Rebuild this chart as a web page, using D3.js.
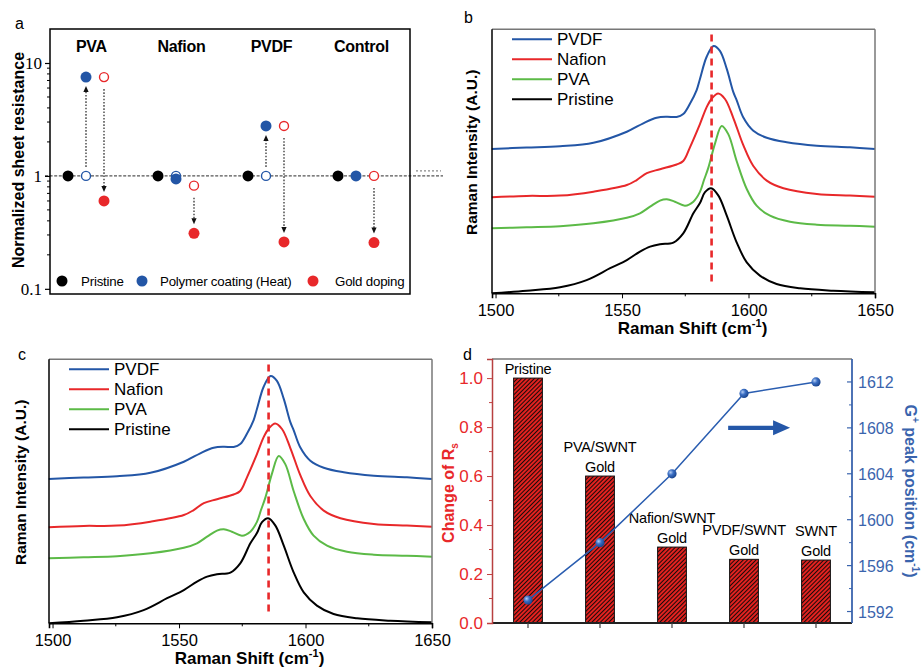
<!DOCTYPE html>
<html><head><meta charset="utf-8">
<script src="https://cdn.jsdelivr.net/npm/d3@7"></script>
<style>body{margin:0;background:#fff;} svg{display:block;font-family:Arial,"Liberation Sans",sans-serif;}</style>
</head><body><svg id="chart" width="921" height="668"></svg>
<script>
// ---------------- Panel a data ----------------
const groupsA = ["PVA", "Nafion", "PVDF", "Control"];
const pristineR = [1, 1, 1, 1];
const coatedBaseR = [1, 1, 1, null];          // open blue (before heat)
const coatedR = [7.5, 0.94, 2.77, 1.0];        // filled blue
const goldBeforeR = [7.5, 0.82, 2.77, 1.0];    // open red
const goldAfterR = [0.60, 0.31, 0.26, 0.257];  // filled red
const coatArrow = [true, false, true, false];
const yTicksA = [0.1, 1, 10];
const yMinorA = [0.2,0.3,0.4,0.5,0.6,0.7,0.8,0.9,2,3,4,5,6,7,8,9];
const legendA = ["Pristine", "Polymer coating (Heat)", "Gold doping"];

// ---------------- Raman spectra (panels b, c) ----------------
const ramanNames = ["PVDF", "Nafion", "PVA", "Pristine"];
const pvdfX = [1498.5,1512.3,1525.5,1538.7,1551.9,1558.4,1563.7,1567.7,1571.6,1574.2,1576.9,1579.5,1580.8,1583.5,1586.2,1588.7,1591.4,1594.0,1595.3,1597.9,1601.9,1607.2,1615.1,1627.0,1640.1,1650.0];
const pvdfY = [54.7,55.2,55.7,57.0,61.2,64.4,66.5,66.9,66.8,67.9,71.9,77.0,81.2,89.7,93.7,91.8,85.0,76.2,73.2,66.7,61.6,58.9,57.2,55.9,55.3,54.7];
const nafionX = [1498.5,1512.3,1525.5,1538.7,1551.9,1555.8,1559.8,1565.0,1571.6,1574.2,1576.9,1580.8,1583.5,1585.5,1588.0,1590.7,1594.0,1597.9,1601.9,1607.2,1613.8,1627.0,1640.1,1650.0];
const nafionY = [36.4,36.9,37.0,38.5,41.0,42.9,45.5,47.0,48.8,50.1,55.4,64.1,70.6,73.8,75.7,73.6,66.4,56.2,48.2,42.7,39.8,37.6,37.0,36.6];
const pvaX = [1498.5,1512.3,1525.5,1538.7,1551.9,1557.1,1561.1,1565.0,1567.7,1570.9,1574.9,1578.2,1580.8,1582.4,1584.1,1586.8,1589.4,1592.0,1595.3,1599.3,1603.2,1608.5,1616.4,1627.0,1640.1,1650.0];
const pvaY = [24.6,25.0,25.4,26.5,28.6,30.3,32.8,35.1,35.6,34.7,33.2,34.7,38.4,42.9,47.5,56.9,63.4,60.3,50.1,39.5,33.2,29.4,27.1,26.0,25.6,25.2];
const pristineX = [1498.5,1512.3,1525.5,1536.0,1545.3,1551.9,1557.1,1561.1,1565.0,1570.3,1574.2,1578.2,1580.8,1582.8,1585.2,1588.1,1591.4,1595.3,1599.3,1604.5,1611.1,1620.4,1633.5,1650.0];
const pristineY = [0.0,1.0,2.3,5.0,9.5,12.6,15.8,17.7,18.6,19.2,22.7,30.3,34.2,38.3,39.8,37.0,29.4,19.3,11.7,6.7,3.5,1.9,1.0,0.4];
const ramanTicks = [1500, 1550, 1600, 1650];
const ramanMinor = [1525, 1575, 1625];
const gPeakRef = 1585.4;

// ---------------- Panel d data ----------------
const samplesD = ["Pristine", "PVA/SWNT", "Nafion/SWNT", "PVDF/SWNT", "SWNT"];
const labelsD = [["Pristine"], ["PVA/SWNT", "Gold"], ["Nafion/SWNT", "Gold"], ["PVDF/SWNT", "Gold"], ["SWNT", "Gold"]];
const changeRs = [1.0, 0.60, 0.31, 0.26, 0.257];
const gPlusPos = [1593, 1598, 1604, 1611, 1612];
const leftTicksD = [0, 0.2, 0.4, 0.6, 0.8, 1.0];
const leftMinorD = [0.1, 0.3, 0.5, 0.7, 0.9];
const rightTicksD = [1592, 1596, 1600, 1604, 1608, 1612];
const rightMinorD = [1594, 1598, 1602, 1606, 1610];
const arrowD = {from: 2.78, to: 3.64, at: 1608};

const RED = "#e8282a", BLUE = "#2356a6", GREEN = "#5cba47", BLACK = "#000";
const svg = d3.select("#chart");
const defs = svg.append("defs");

function letter(t, x, y) {
  svg.append("text").attr("x", x).attr("y", y).attr("font-size", 16).text(t);
}

// ================= Panel a =================
(function () {
  const L = 50, R = 410, T = 29, B = 294;
  const x = d3.scaleLinear().domain([-1, 19]).range([L, R]);
  const y = d3.scaleLog().domain([0.09, 20]).range([B, T]);
  const g = svg.append("g");
  letter("a", 15, 29);

  g.append("line").attr("x1", L - 5).attr("x2", 443).attr("y1", y(1)).attr("y2", y(1))
    .attr("stroke", "#555").attr("stroke-width", 1.4).attr("stroke-dasharray", "3,1.6");
  g.append("line").attr("x1", 416).attr("x2", 441).attr("y1", y(1.107)).attr("y2", y(1.107))
    .attr("stroke", "#888").attr("stroke-width", 1.2).attr("stroke-dasharray", "2,2");

  g.append("rect").attr("x", L).attr("y", T).attr("width", R - L).attr("height", B - T)
    .attr("fill", "none").attr("stroke", "#000").attr("stroke-width", 1.5);

  const ax = g.append("g").attr("transform", `translate(${L},0)`)
    .call(d3.axisLeft(y).tickValues(yTicksA).tickSize(5).tickPadding(3).tickFormat(d => String(d)));
  ax.select(".domain").remove();
  ax.selectAll("line").attr("stroke-width", 1.2);
  ax.selectAll("text").attr("font-family", "'Liberation Serif','Times New Roman',serif").attr("font-size", 17);
  g.selectAll(".minA").data(yMinorA).join("line")
    .attr("x1", L - 3).attr("x2", L).attr("y1", d => y(d)).attr("y2", d => y(d))
    .attr("stroke", "#000").attr("stroke-width", 1);

  g.append("text").attr("transform", `translate(24,160) rotate(-90)`).attr("text-anchor", "middle")
    .attr("font-size", 16).attr("font-weight", "bold").text("Normalized sheet resistance");

  g.selectAll(".gl").data(groupsA).join("text")
    .attr("x", (d, i) => x(i * 5 + 1.3)).attr("y", 52).attr("text-anchor", "middle")
    .attr("font-size", 16).attr("font-weight", "bold").attr("letter-spacing", "-0.3").text(d => d);

  function arrow(xx, y1, y2) {
    const dir = y2 < y1 ? -1 : 1;
    g.append("line").attr("x1", xx).attr("x2", xx).attr("y1", y1).attr("y2", y2 - dir * 5)
      .attr("stroke", "#222").attr("stroke-width", 1.2).attr("stroke-dasharray", "1.6,1.6");
    g.append("path").attr("d", `M${xx - 2.6},${y2 - dir * 6} L${xx + 2.6},${y2 - dir * 6} L${xx},${y2} Z`).attr("fill", "#111");
  }
  groupsA.forEach((gname, i) => {
    if (coatArrow[i]) arrow(x(i * 5 + 1), y(1) - 9, y(coatedR[i]) + 9);
    arrow(x(i * 5 + 2), y(goldBeforeR[i]) + 12, y(goldAfterR[i]) - 9);
  });

  groupsA.forEach((gname, i) => {
    g.append("circle").attr("cx", x(i * 5)).attr("cy", y(pristineR[i])).attr("r", 5.5).attr("fill", BLACK);
    g.append("circle").attr("cx", x(i * 5 + 1)).attr("cy", y(coatedR[i])).attr("r", 5.5).attr("fill", BLUE);
    if (coatedBaseR[i] != null)
      g.append("circle").attr("cx", x(i * 5 + 1)).attr("cy", y(coatedBaseR[i])).attr("r", 4.5)
        .attr("fill", i === 1 ? "none" : "#fff").attr("stroke", BLUE).attr("stroke-width", 1.4);
    g.append("circle").attr("cx", x(i * 5 + 2)).attr("cy", y(goldBeforeR[i])).attr("r", 4.5)
      .attr("fill", "#fff").attr("stroke", RED).attr("stroke-width", 1.4);
    g.append("circle").attr("cx", x(i * 5 + 2)).attr("cy", y(goldAfterR[i])).attr("r", 5.5).attr("fill", RED);
  });

  const legCol = [BLACK, BLUE, RED], legCx = [62, 142, 313], legTx = [81, 160, 335];
  legendA.forEach((t, i) => {
    g.append("circle").attr("cx", legCx[i]).attr("cy", 281).attr("r", 5.5).attr("fill", legCol[i]);
    g.append("text").attr("x", legTx[i]).attr("y", 285.5).attr("font-size", 13.3).attr("letter-spacing", "-0.2").text(t);
  });
})();

// ================= Panels b, c =================
const ramanData = [
  {name: "Pristine", xs: pristineX, ys: pristineY, color: BLACK},
  {name: "PVA", xs: pvaX, ys: pvaY, color: GREEN},
  {name: "Nafion", xs: nafionX, ys: nafionY, color: RED},
  {name: "PVDF", xs: pvdfX, ys: pvdfY, color: BLUE}
];
const legendColor = {PVDF: BLUE, Nafion: RED, PVA: GREEN, Pristine: BLACK};

function drawRaman(ox, oy, titleX, lt, lx, ly) {
  const W = 383, H = 264;
  const x = d3.scaleLinear().domain([1498.6, 1650]).range([ox, ox + W]);
  const y = d3.scaleLinear().domain([0, 100]).range([oy + H, oy]);
  const g = svg.append("g");
  letter(lt, lx, ly);
  const line = d3.line().x(d => x(d[0])).y(d => y(d[1])).curve(d3.curveCatmullRom.alpha(0.5));
  ramanData.forEach(s => {
    g.append("path").datum(d3.zip(s.xs, s.ys)).attr("d", line).attr("fill", "none")
      .attr("stroke", s.color).attr("stroke-width", 2).attr("stroke-linejoin", "round");
  });
  g.append("line").attr("x1", x(gPeakRef)).attr("x2", x(gPeakRef)).attr("y1", y(98)).attr("y2", y(3))
    .attr("stroke", RED).attr("stroke-width", 2.6).attr("stroke-dasharray", "7,5");
  g.append("line").attr("x1", ox).attr("x2", ox + W).attr("y1", oy).attr("y2", oy).attr("stroke", "#777").attr("stroke-width", 1.5);
  g.append("line").attr("x1", ox + W).attr("x2", ox + W).attr("y1", oy).attr("y2", oy + H).attr("stroke", "#777").attr("stroke-width", 1.5);
  g.append("line").attr("x1", ox).attr("x2", ox).attr("y1", oy).attr("y2", oy + H).attr("stroke", "#000").attr("stroke-width", 1.5);
  const ax = g.append("g").attr("transform", `translate(0,${oy + H})`)
    .call(d3.axisBottom(x).tickValues(ramanTicks).tickSize(5).tickPadding(6).tickFormat(d3.format("d")));
  ax.select(".domain").attr("stroke-width", 1.6);
  ax.selectAll("text").attr("font-size", 16.5).attr("font-family", "Arial,'Liberation Sans',sans-serif");
  g.selectAll(".mn").data(ramanMinor).join("line").attr("x1", d => x(d)).attr("x2", d => x(d))
    .attr("y1", oy + H).attr("y2", oy + H + 3).attr("stroke", "#000");
  const xt = g.append("text").attr("x", ox + W / 2 + 9).attr("y", oy + H + 41).attr("text-anchor", "middle")
    .attr("font-size", 17).attr("font-weight", "bold");
  xt.append("tspan").text("Raman Shift (cm");
  xt.append("tspan").attr("dy", -7).attr("font-size", 11).text("-1");
  xt.append("tspan").attr("dy", 7).text(")");
  g.append("text").attr("transform", `translate(${titleX},${oy + 123}) rotate(-90)`).attr("text-anchor", "middle")
    .attr("font-size", 15.5).attr("font-weight", "bold").text("Raman Intensity (A.U.)");
  ramanNames.forEach((n, i) => {
    const ly2 = oy + 10 + i * 20;
    g.append("line").attr("x1", ox + 20).attr("x2", ox + 60).attr("y1", ly2).attr("y2", ly2)
      .attr("stroke", legendColor[n]).attr("stroke-width", 2);
    g.append("text").attr("x", ox + 65).attr("y", ly2 + 6).attr("font-size", 17).text(n);
  });
}
drawRaman(492, 29.3, 477, "b", 464, 23);
drawRaman(49, 359.3, 26, "c", 18, 360);

// ================= Panel d =================
(function () {
  const L = 492, R = 852, T = 359, B = 623;
  letter("d", 463, 360);
  const xb = d3.scaleBand().domain(samplesD).range([L, R]).paddingInner(0.6).paddingOuter(0.3);
  const step = xb.step();
  const x0 = xb(samplesD[0]) + xb.bandwidth() / 2;
  const xi = d3.scaleLinear().domain([0, 1]).range([x0, x0 + step]);
  const yL = d3.scaleLinear().domain([0, 1.078]).range([B, T]);
  const yR = d3.scaleLinear().domain([1591, 1614]).range([B, T]);
  const g = svg.append("g");

  const pat = defs.append("pattern").attr("id", "hatch").attr("patternUnits", "userSpaceOnUse")
    .attr("width", 3).attr("height", 3).attr("patternTransform", "rotate(45)");
  pat.append("rect").attr("width", 3).attr("height", 3).attr("fill", "#e4221f");
  pat.append("line").attr("x1", 0.5).attr("x2", 0.5).attr("y1", 0).attr("y2", 3).attr("stroke", "#1a0a0a").attr("stroke-width", 1.05);
  const rg = defs.append("radialGradient").attr("id", "ball").attr("cx", "35%").attr("cy", "35%").attr("r", "65%");
  rg.append("stop").attr("offset", "0").attr("stop-color", "#b4cdf3");
  rg.append("stop").attr("offset", "0.45").attr("stop-color", "#3b6fc4");
  rg.append("stop").attr("offset", "1").attr("stop-color", "#1b4690");

  g.selectAll(".bar").data(samplesD).join("rect")
    .attr("x", d => xb(d)).attr("width", xb.bandwidth())
    .attr("y", (d, i) => yL(changeRs[i])).attr("height", (d, i) => yL(0) - yL(changeRs[i]))
    .attr("fill", "url(#hatch)").attr("stroke", "#111").attr("stroke-width", 1);
  samplesD.forEach((s, i) => {
    const lines = labelsD[i], n = lines.length;
    lines.forEach((t, k) => {
      g.append("text").attr("x", xb(s) + xb.bandwidth() / 2).attr("y", yL(changeRs[i]) - 4 - (n - 1 - k) * 20)
        .attr("text-anchor", "middle").attr("font-size", 14.5).attr("letter-spacing", "-0.2").text(t);
    });
  });

  const pts = samplesD.map((s, i) => [xb(s) + xb.bandwidth() / 2, yR(gPlusPos[i])]);
  g.append("path").attr("d", d3.line()(pts)).attr("fill", "none").attr("stroke", "#2a5db0").attr("stroke-width", 1.5);
  g.selectAll(".pt").data(pts).join("circle").attr("cx", d => d[0]).attr("cy", d => d[1]).attr("r", 4.6)
    .attr("fill", "url(#ball)");

  const ax1 = xi(arrowD.from), ax2 = xi(arrowD.to), ay = yR(arrowD.at);
  g.append("path").attr("d",
    `M${ax1},${ay - 2.2} L${ax2 - 17},${ay - 2.2} L${ax2 - 17},${ay - 7.5} L${ax2},${ay} L${ax2 - 17},${ay + 7.5} L${ax2 - 17},${ay + 2.2} L${ax1},${ay + 2.2} Z`)
    .attr("fill", "#2457a8");

  g.append("line").attr("x1", L).attr("x2", R).attr("y1", T).attr("y2", T).attr("stroke", "#777").attr("stroke-width", 1.5);
  g.append("line").attr("x1", L).attr("x2", R).attr("y1", B).attr("y2", B).attr("stroke", "#222").attr("stroke-width", 1.8);
  g.selectAll(".xt").data(samplesD).join("line").attr("x1", d => xb(d) + xb.bandwidth() / 2).attr("x2", d => xb(d) + xb.bandwidth() / 2)
    .attr("y1", B).attr("y2", B + 5).attr("stroke", "#444").attr("stroke-width", 1.2);

  const la = g.append("g").attr("transform", `translate(${L},0)`)
    .call(d3.axisLeft(yL).tickValues(leftTicksD).tickSize(5).tickPadding(4).tickFormat(d3.format(".1f")));
  la.select(".domain").attr("stroke", "#b84040").attr("stroke-width", 1.5);
  la.selectAll("line").attr("stroke", "#c04040");
  la.selectAll("text").attr("fill", RED).attr("font-size", 17).attr("font-family", "Arial,'Liberation Sans',sans-serif");
  g.selectAll(".lm").data(leftMinorD).join("line").attr("x1", L - 3).attr("x2", L).attr("y1", d => yL(d)).attr("y2", d => yL(d)).attr("stroke", "#c04040");

  const RB = "#3a64ad";
  g.append("line").attr("x1", R).attr("x2", R).attr("y1", T).attr("y2", B).attr("stroke", RB).attr("stroke-width", 1.8);
  g.selectAll(".rt").data(rightTicksD).join("line").attr("x1", R - 5).attr("x2", R).attr("y1", d => yR(d)).attr("y2", d => yR(d)).attr("stroke", RB).attr("stroke-width", 1.2);
  g.selectAll(".rm").data(rightMinorD).join("line").attr("x1", R - 3).attr("x2", R).attr("y1", d => yR(d)).attr("y2", d => yR(d)).attr("stroke", RB);
  g.selectAll(".rl").data(rightTicksD).join("text").attr("x", R + 6).attr("y", d => yR(d) + 6)
    .attr("fill", RB).attr("font-size", 16).text(d => d);

  const lt = g.append("text").attr("transform", `translate(454,493) rotate(-90)`).attr("text-anchor", "middle")
    .attr("font-size", 16).attr("font-weight", "bold").attr("fill", RED);
  lt.append("tspan").text("Change of R");
  lt.append("tspan").attr("dy", 4).attr("font-size", 10).text("s");
  const rt = g.append("text").attr("transform", `translate(905,491) rotate(90)`).attr("text-anchor", "middle")
    .attr("font-size", 16).attr("font-weight", "bold").attr("fill", RB);
  rt.append("tspan").text("G");
  rt.append("tspan").attr("dy", -7).attr("font-size", 10).text("+");
  rt.append("tspan").attr("dy", 7).text(" peak position (cm");
  rt.append("tspan").attr("dy", -7).attr("font-size", 10).text("-1");
  rt.append("tspan").attr("dy", 7).text(")");
})();
</script>
</body></html>
